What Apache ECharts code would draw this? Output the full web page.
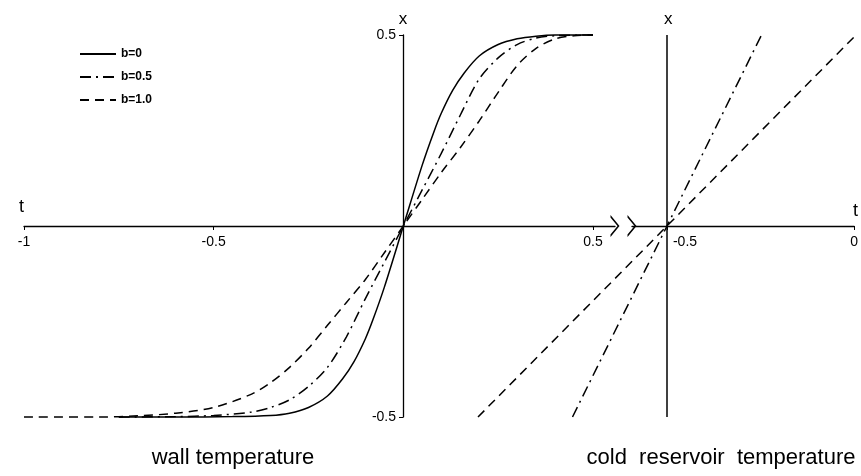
<!DOCTYPE html>
<html><head><meta charset="utf-8">
<script src="https://cdn.jsdelivr.net/npm/echarts@6/dist/echarts.min.js"></script>
<style>html,body{margin:0;padding:0;background:#fff}#c{width:861px;height:476px}</style>
</head><body><div id="c"></div>
<script>
// Left panel: wall temperature x(t)
const solidT = [-0.75,-0.6,-0.45,-0.35,-0.3,-0.25,-0.2,-0.16,-0.13,-0.1,-0.08,-0.05,0,0.05,0.08,0.1,0.13,0.16,0.2,0.25,0.3,0.35,0.4,0.5];
const solidX = [-0.5,-0.5,-0.499,-0.496,-0.49,-0.475,-0.445,-0.40,-0.355,-0.295,-0.245,-0.16,0,0.16,0.245,0.295,0.355,0.40,0.445,0.475,0.49,0.497,0.5,0.5];
const dashDotT = [-0.75,-0.6,-0.5,-0.4,-0.35,-0.3,-0.25,-0.2,-0.15,-0.1,-0.05,0,0.05,0.1,0.15,0.2,0.25,0.3,0.35,0.4,0.5];
const dashDotX = [-0.5,-0.499,-0.496,-0.487,-0.475,-0.455,-0.42,-0.37,-0.29,-0.19,-0.095,0,0.095,0.19,0.29,0.385,0.44,0.475,0.492,0.498,0.5];
const dashedT = [-1,-0.8,-0.7,-0.6,-0.5,-0.4,-0.35,-0.3,-0.25,-0.2,-0.15,-0.1,-0.05,0,0.05,0.1,0.15,0.2,0.25,0.3,0.35,0.4,0.45,0.5];
const dashedX = [-0.5,-0.5,-0.497,-0.49,-0.475,-0.44,-0.41,-0.37,-0.32,-0.26,-0.2,-0.14,-0.07,0,0.07,0.14,0.205,0.275,0.35,0.42,0.465,0.49,0.498,0.5];
// Right panel: cold reservoir temperature (straight lines)
const rSolidT = [-0.5,-0.5];     const rSolidX = [-0.5,0.5];
const rDashDotT = [-0.75,-0.25]; const rDashDotX = [-0.5,0.5];
const rDashedT = [-1,0];         const rDashedX = [-0.5,0.5];
// Tick labels
const leftTLabels = ['-1','-0.5','','0.5'];
const rightTLabels = ['-0.5','0'];
const xLabels = ['-0.5','','0.5'];
const legendNames = ['b=0','b=0.5','b=1.0'];
const captions = ['wall temperature','cold reservoir temperature'];

const zip = (a,b) => a.map((v,i)=>[v,b[i]]);
const FONT = 'Liberation Sans';
const SOLID = 'solid', DASHDOT = [11,5,2,5], DASHED = [9,6];
const ln = (name, t, x, type, gi, smooth) => ({
  name, type:'line', xAxisIndex:gi, yAxisIndex:gi, data: zip(t,x), symbol:'none', showSymbol:false,
  smooth, clip:false, silent:true, color:'#000', itemStyle:{color:'#000'},
  lineStyle:{color:'#000', width:1.5, type}
});
const upChevron = 'path://M0,9 L11,0 L22,9 L19.6,9 L11,2 L2.4,9 Z';
const downChevron = 'path://M0,0 L11,9 L22,0 L19.6,0 L11,7 L2.4,0 Z';
const AX = {color:'#000', width:1.3};
const lbl = (arr, min, step) => (v => { const i = Math.round((v-min)/step); return arr[i] !== undefined ? arr[i] : ''; });
const hidX = (gi, min, max) => ({gridIndex:gi, type:'value', min, max, show:false});
const hidY = gi => ({gridIndex:gi, type:'value', min:-0.5, max:0.5, show:false});
const TOP = 35, H = 382, HALF = 191;

const chart = echarts.init(document.getElementById('c'));
chart.setOption({
  animation:false,
  backgroundColor:'#fff',
  legend:{
    data: legendNames, orient:'vertical', left:74, top:43, itemWidth:36, itemHeight:10, itemGap:11,
    itemStyle:{opacity:0}, lineStyle:{color:'#000', opacity:1},
    textStyle:{fontFamily:FONT, fontSize:12, fontWeight:'bold', color:'#000'}
  },
  grid:[
    {left:24, top:TOP, width:569, height:H},    // 0 left data
    {left:478, top:TOP, width:378, height:H},   // 1 right data
    {left:24, top:TOP, width:569, height:HALF}, // 2 left t-axis
    {left:403, top:TOP, width:190, height:H},   // 3 left x-axis
    {left:667, top:TOP, width:189, height:HALF},// 4 right t-axis
    {left:632, top:TOP, width:35, height:HALF}, // 5 right axis break stub
    {left:593, top:TOP, width:22, height:HALF}  // 6 left axis arrow stub
  ],
  xAxis:[
    hidX(0,-1,0.5),
    hidX(1,-1,0),
    {gridIndex:2, type:'value', position:'bottom', min:-1, max:0.5, interval:0.5, splitLine:{show:false},
     axisLine:{onZero:false, lineStyle:AX},
     axisTick:{length:4, lineStyle:{color:'#000'}},
     axisLabel:{margin:9, color:'#000', fontFamily:FONT, fontSize:14, formatter:lbl(leftTLabels,-1,0.5)}},
    hidX(3,0,0.5),
    {gridIndex:4, type:'value', position:'bottom', min:-0.5, max:0, interval:0.5, splitLine:{show:false},
     axisLine:{onZero:false, lineStyle:AX},
     axisTick:{length:4, lineStyle:{color:'#000'}},
     axisLabel:{margin:9, color:'#000', fontFamily:FONT, fontSize:14,
       formatter:v=>{ const s = lbl(rightTLabels,-0.5,0.5)(v); return v < -0.25 ? '{r|'+s+'}' : s; },
       rich:{r:{padding:[0,0,0,36], fontFamily:FONT, fontSize:14, color:'#000'}}}},
    {gridIndex:5, type:'value', position:'bottom', min:0, max:1, splitLine:{show:false},
     axisLine:{onZero:false, lineStyle:AX, symbol:[downChevron,'none'], symbolSize:[22,9]},
     axisTick:{show:false}, axisLabel:{show:false}},
    {gridIndex:6, type:'value', position:'bottom', min:0, max:1, splitLine:{show:false},
     axisLine:{onZero:false, lineStyle:AX, symbol:['none',upChevron], symbolSize:[22,9]},
     axisTick:{show:false}, axisLabel:{show:false}}
  ],
  yAxis:[
    hidY(0), hidY(1), hidY(2),
    {gridIndex:3, type:'value', position:'left', min:-0.5, max:0.5, interval:0.5, splitLine:{show:false},
     name:'x', nameLocation:'end', nameGap:4, nameTextStyle:{fontFamily:FONT, fontSize:17, color:'#000'},
     axisLine:{onZero:false, lineStyle:AX},
     axisTick:{length:4, lineStyle:{color:'#000'}},
     axisLabel:{margin:7, color:'#000', fontFamily:FONT, fontSize:14, formatter:lbl(xLabels,-0.5,0.5)}},
    hidY(4), hidY(5), hidY(6)
  ],
  graphic:[
    {type:'text', left:19, top:198, style:{text:'t', font:'18px "Liberation Sans"', fill:'#000'}},
    {type:'text', left:853, top:202, style:{text:'t', font:'18px "Liberation Sans"', fill:'#000'}},
    {type:'text', left:664, top:11, style:{text:'x', font:'17px "Liberation Sans"', fill:'#000'}},
    {type:'text', x:233, y:458, style:{text:captions[0], font:'22px "Liberation Sans"', fill:'#000', align:'center', verticalAlign:'middle'}},
    {type:'text', x:721, y:458, style:{text:captions[1].replace(/ /g,'  '), font:'22px "Liberation Sans"', fill:'#000', align:'center', verticalAlign:'middle'}}
  ],
  series:[
    ln(legendNames[0], solidT, solidX, SOLID, 0, 0.3),
    ln(legendNames[1], dashDotT, dashDotX, DASHDOT, 0, 0.3),
    ln(legendNames[2], dashedT, dashedX, DASHED, 0, 0.3),
    ln(legendNames[0], rSolidT, rSolidX, SOLID, 1, false),
    ln(legendNames[1], rDashDotT, rDashDotX, DASHDOT, 1, false),
    ln(legendNames[2], rDashedT, rDashedX, DASHED, 1, false)
  ]
});
</script></body></html>
